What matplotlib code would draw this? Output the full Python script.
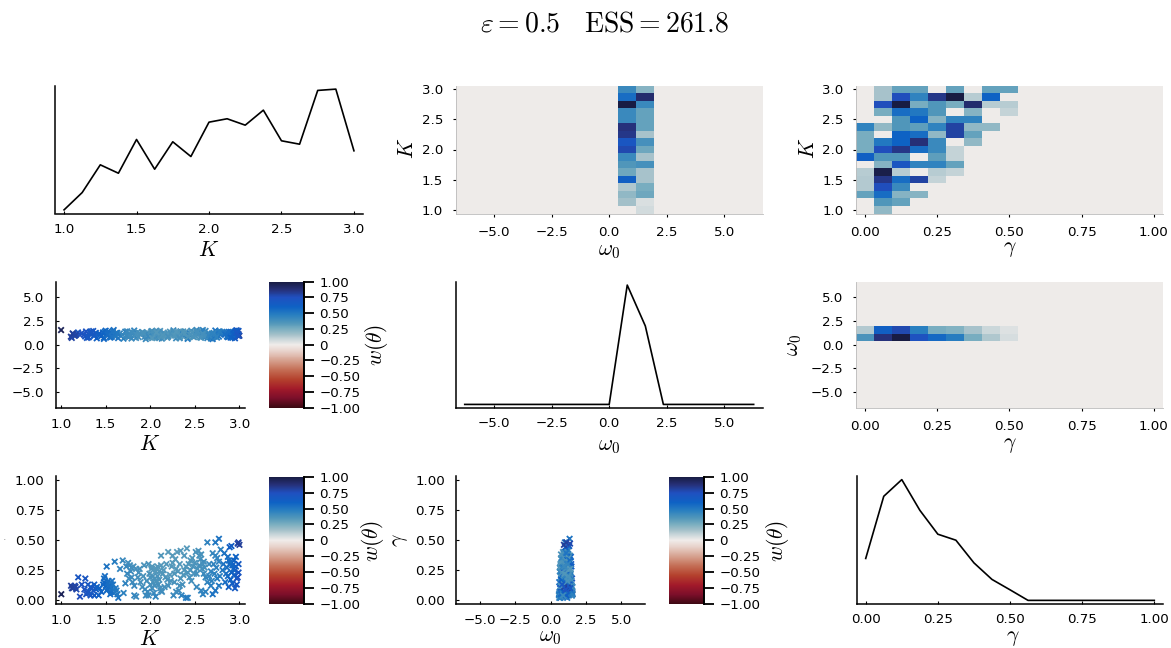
import numpy as np
import matplotlib
matplotlib.use('Agg')
import matplotlib.pyplot as plt
from matplotlib.colors import LinearSegmentedColormap

plt.rcParams['mathtext.fontset'] = 'cm'
plt.rcParams['font.family'] = ['DejaVu Sans']

# ---------------- data ----------------
K_grid = [1.0, 1.125, 1.25, 1.375, 1.5, 1.625, 1.75, 1.875, 2.0,
          2.125, 2.25, 2.375, 2.5, 2.625, 2.75, 2.875, 3.0]
W0_grid = [-6.283, -5.498, -4.712, -3.927, -3.142, -2.356, -1.571, -0.785, 0.0,
           0.785, 1.571, 2.356, 3.142, 3.927, 4.712, 5.498, 6.283]
G_grid = [0.0, 0.0625, 0.125, 0.1875, 0.25, 0.3125, 0.375, 0.4375, 0.5,
          0.5625, 0.625, 0.6875, 0.75, 0.8125, 0.875, 0.9375, 1.0]

# marginals
K_marg = [4.0, 21.3, 49.0, 40.6, 74.3, 44.6, 72.0, 57.3, 91.6,
          95.0, 88.6, 103.6, 73.0, 69.6, 123.3, 124.6, 63.0]
W0_marg = [0, 0, 0, 0, 0, 0, 0, 0, 0, 121.7, 80.0, 0, 0, 0, 0, 0, 0]
G_marg = [42.0, 104.3, 121.0, 90.3, 66.3, 60.3, 37.6, 21.0, 10.6,
          0, 0, 0, 0, 0, 0, 0, 0]

# heatmap K (rows, K=1.0..3.0) x omega0 (columns at 0.785 and 1.571)
KW_at_0785 = [0, 0.16, 0.20, 0.14, 0.62, 0.28, 0.35, 0.42, 0.78,
              0.70, 0.85, 0.87, 0.42, 0.42, 1.00, 0.55, 0.42]
KW_at_1571 = [0.07, 0.05, 0.28, 0.25, 0.15, 0.15, 0.38, 0.15, 0.28,
              0.38, 0.15, 0.30, 0.30, 0.30, 0.42, 0.90, 0.22]

# heatmap K (rows) x gamma (first 9 gamma columns, rest empty)
KG_rows = [
    [0, 0.20, 0, 0, 0, 0, 0, 0, 0],              # K=1.0
    [0, 0.35, 0.30, 0, 0, 0, 0, 0, 0],           # 1.125
    [0.30, 0.55, 0.22, 0.22, 0, 0, 0, 0, 0],     # 1.25
    [0.13, 0.75, 0.42, 0, 0, 0, 0, 0, 0],        # 1.375
    [0.13, 0.85, 0.55, 0.80, 0.10, 0, 0, 0, 0],  # 1.5
    [0.12, 0.98, 0.12, 0, 0.12, 0.10, 0, 0, 0],  # 1.625
    [0, 0.22, 0.70, 0.45, 0.45, 0.30, 0, 0, 0],  # 1.75
    [0.62, 0.35, 0.35, 0, 0.32, 0.10, 0, 0, 0],  # 1.875
    [0.25, 0.75, 0.85, 0.55, 0.42, 0.10, 0, 0, 0],  # 2.0
    [0.25, 0.50, 0.60, 0.88, 0.42, 0, 0.20, 0, 0],  # 2.125
    [0.25, 0, 0.60, 0.55, 0.20, 0.80, 0.30, 0, 0],  # 2.25
    [0.45, 0.20, 0.35, 0.32, 0.45, 0.80, 0.20, 0.20, 0],  # 2.375
    [0, 0, 0.35, 0.60, 0.22, 0.45, 0.45, 0, 0],  # 2.5
    [0, 0.25, 0.55, 0.50, 0.35, 0, 0.22, 0, 0.10],  # 2.625
    [0, 0.75, 1.00, 0.25, 0.35, 0.25, 0.90, 0.12, 0.12],  # 2.75
    [0, 0.15, 0.75, 0.45, 0.85, 1.00, 0.12, 0.60, 0],  # 2.875
    [0, 0.15, 0.30, 0.30, 0, 0.30, 0, 0.30, 0.30],  # 3.0
]

# heatmap omega0 (rows 0.785 and 1.571) x gamma
WG_at_0785 = [0.36, 0.87, 1.00, 0.73, 0.57, 0.48, 0.25, 0.14, 0.06]
WG_at_1571 = [0.13, 0.62, 0.78, 0.47, 0.25, 0.23, 0.15, 0.08, 0.04]

# posterior samples: K, gamma, omega0, weight
K_s = [1.00,1.11,1.14,1.12,1.15,1.19,1.21,1.23,1.27,1.28,
       1.31,1.33,1.33,1.37,1.39,1.36,1.40,1.37,1.43,1.48,
       1.49,1.51,1.48,1.50,1.52,1.54,1.56,1.57,1.59,1.60,
       1.64,1.66,1.69,1.72,1.75,1.77,1.79,1.81,1.78,1.74,
       1.76,1.80,1.82,1.82,1.84,1.89,1.91,1.94,1.97,1.95,
       1.93,1.99,2.01,2.03,2.05,2.06,2.08,2.10,2.02,2.04,
       2.06,2.09,2.12,2.13,2.12,2.12,2.15,2.17,2.19,2.22,
       2.24,2.25,2.28,2.20,2.25,2.26,2.29,2.32,2.36,2.34,
       2.30,2.34,2.38,2.41,2.40,2.42,2.44,2.46,2.49,2.40,
       2.42,2.35,2.51,2.54,2.55,2.56,2.55,2.58,2.60,2.62,
       2.64,2.57,2.59,2.62,2.64,2.73,2.77,2.70,2.73,2.75,
       2.79,2.77,2.68,2.72,2.75,2.77,2.73,2.70,2.87,2.89,
       2.90,2.92,2.94,2.96,2.89,2.91,2.88,2.92,2.95,2.97,
       2.98,2.98,2.99,3.00,2.85,2.87,2.91,1.29,1.17,1.53,
       1.55,1.62,1.70,1.86,1.96,2.00,2.07,2.16,2.18,2.31,
       2.33,2.37,2.45,2.48,2.52,2.66,2.68,2.81,2.83,2.95,
       2.99,1.88,1.98,2.27,2.60,
       1.52,1.55,1.58,1.61,1.63,1.51,1.57,1.47,1.45,1.42,
       2.03,2.05,2.08,2.10,2.00,2.11,1.98,2.14,2.07,2.02,
       2.38,2.43,2.47,2.50,2.53,2.57,2.59,2.61,2.52,2.45,
       2.82,2.86,2.88,2.93,2.96,2.90,2.94,2.97,2.99,2.84,
       2.71,2.74,2.78,2.66,2.69,1.84,1.87,1.79,1.73,1.92,
       2.20,2.23,2.27,2.29,2.33,1.13,1.16,1.26,1.34,1.30]
G_s = [0.05,0.12,0.11,0.10,0.12,0.19,0.03,0.13,0.18,0.05,
       0.07,0.04,0.11,0.13,0.09,0.08,0.11,0.04,0.10,0.18,
       0.20,0.28,0.15,0.12,0.09,0.11,0.07,0.10,0.06,0.32,
       0.02,0.26,0.33,0.14,0.31,0.29,0.27,0.28,0.24,0.22,
       0.18,0.15,0.12,0.04,0.03,0.15,0.11,0.09,0.07,0.04,
       0.29,0.22,0.26,0.20,0.18,0.24,0.28,0.24,0.10,0.06,
       0.03,0.13,0.08,0.07,0.37,0.29,0.25,0.19,0.17,0.21,
       0.28,0.31,0.34,0.40,0.37,0.04,0.07,0.08,0.13,0.18,
       0.40,0.41,0.37,0.43,0.28,0.23,0.19,0.16,0.22,0.02,
       0.02,0.04,0.40,0.41,0.37,0.34,0.29,0.26,0.22,0.19,
       0.15,0.08,0.05,0.07,0.48,0.48,0.51,0.39,0.37,0.35,
       0.42,0.32,0.24,0.22,0.18,0.12,0.08,0.05,0.36,0.30,
       0.32,0.29,0.33,0.36,0.44,0.45,0.11,0.14,0.10,0.18,
       0.19,0.47,0.48,0.46,0.22,0.20,0.23,0.06,0.09,0.16,
       0.13,0.08,0.06,0.19,0.16,0.13,0.16,0.11,0.30,0.24,
       0.30,0.21,0.33,0.28,0.11,0.30,0.12,0.25,0.39,0.25,
       0.30,0.26,0.30,0.15,0.32,
       0.14,0.05,0.13,0.10,0.05,0.08,0.16,0.13,0.07,0.04,
       0.15,0.12,0.20,0.17,0.19,0.10,0.04,0.22,0.26,0.28,
       0.25,0.30,0.35,0.31,0.26,0.38,0.30,0.27,0.22,0.25,
       0.30,0.27,0.33,0.26,0.28,0.17,0.21,0.13,0.23,0.15,
       0.30,0.27,0.20,0.20,0.16,0.26,0.23,0.19,0.28,0.20,
       0.12,0.16,0.22,0.26,0.12,0.10,0.11,0.09,0.10,0.13]
O_s = [1.55,0.85,1.10,0.72,0.95,1.30,1.05,1.22,0.88,1.40,
       0.78,1.15,1.32,0.92,1.25,1.45,0.68,1.02,1.18,0.75,
       1.35,1.08,0.62,1.48,0.98,1.27,0.82,1.12,1.55,0.93,
       0.70,1.20,1.05,1.38,0.88,1.15,0.66,1.28,1.00,1.42,
       0.80,1.22,0.95,1.50,0.72,1.10,1.33,0.85,1.25,0.60,
       1.18,0.92,1.40,0.76,1.08,1.30,0.98,0.70,1.45,1.15,
       0.82,1.35,1.02,0.64,1.12,0.90,1.28,1.06,0.74,1.38,
       0.96,1.20,1.10,0.88,1.32,1.52,0.68,1.22,0.94,1.42,
       1.05,1.25,0.86,1.15,1.36,0.72,1.00,1.48,0.80,1.18,
       0.62,1.30,0.95,1.12,1.38,0.78,1.22,1.05,0.90,1.46,
       0.70,1.28,1.55,0.84,1.10,1.02,1.35,0.92,1.18,0.76,
       1.25,1.40,0.66,1.08,1.32,0.86,1.50,0.60,1.20,0.98,
       1.36,0.74,1.14,1.44,1.05,1.32,0.88,1.26,0.68,1.52,
       1.00,1.38,1.12,0.95,1.30,0.80,1.18,0.72,1.08,1.42,
       0.90,1.24,0.64,1.34,1.02,0.82,1.48,1.16,0.94,1.28,
       0.70,1.40,1.06,0.86,1.56,1.20,0.76,1.36,1.10,0.98,
       1.46,1.22,0.78,1.30,1.04,
       1.05,0.75,1.40,0.95,1.25,1.18,0.85,1.30,0.90,1.12,
       1.35,0.78,1.15,0.92,1.22,1.45,0.88,1.02,1.30,0.70,
       1.12,0.84,1.28,0.96,1.42,0.74,1.16,0.90,1.34,1.04,
       1.20,0.88,1.36,1.00,1.48,0.76,1.12,1.30,0.94,1.06,
       1.24,0.82,1.40,0.98,1.18,1.10,0.80,1.32,0.96,1.26,
       0.86,1.20,0.98,1.38,0.72,1.20,0.98,1.08,1.40,0.82]
W_s = [0.95,0.82,0.82,0.80,0.78,0.70,0.75,0.72,0.70,0.72,
       0.68,0.70,0.66,0.64,0.66,0.68,0.62,0.66,0.60,0.55,
       0.55,0.52,0.58,0.58,0.56,0.55,0.55,0.52,0.54,0.48,
       0.52,0.45,0.42,0.45,0.40,0.38,0.40,0.38,0.40,0.42,
       0.40,0.40,0.42,0.44,0.42,0.38,0.38,0.40,0.42,0.42,
       0.36,0.36,0.35,0.35,0.36,0.34,0.34,0.35,0.40,0.42,
       0.44,0.38,0.40,0.40,0.35,0.34,0.34,0.35,0.36,0.34,
       0.34,0.33,0.33,0.33,0.33,0.42,0.40,0.40,0.38,0.36,
       0.33,0.33,0.34,0.33,0.35,0.36,0.37,0.38,0.36,0.50,
       0.48,0.45,0.36,0.36,0.37,0.37,0.38,0.39,0.40,0.42,
       0.44,0.44,0.46,0.46,0.45,0.50,0.52,0.42,0.44,0.44,
       0.46,0.46,0.44,0.46,0.48,0.50,0.52,0.52,0.55,0.56,
       0.56,0.58,0.60,0.60,0.62,0.64,0.62,0.64,0.66,0.70,
       0.72,0.78,0.80,0.82,0.55,0.56,0.58,0.70,0.78,0.55,
       0.55,0.50,0.46,0.38,0.38,0.38,0.36,0.38,0.34,0.35,
       0.34,0.35,0.35,0.36,0.42,0.42,0.48,0.50,0.52,0.62,
       0.66,0.38,0.36,0.37,0.40,
       0.55,0.55,0.52,0.50,0.50,0.56,0.52,0.58,0.60,0.62,
       0.37,0.38,0.36,0.36,0.37,0.38,0.42,0.35,0.34,0.34,
       0.35,0.35,0.35,0.36,0.37,0.37,0.38,0.39,0.38,0.36,
       0.52,0.54,0.55,0.58,0.62,0.60,0.62,0.68,0.70,0.55,
       0.44,0.46,0.48,0.44,0.46,0.38,0.38,0.40,0.42,0.37,
       0.38,0.37,0.35,0.34,0.38,0.82,0.80,0.72,0.68,0.68]

K_ticks = [1.0, 1.5, 2.0, 2.5, 3.0]
K_ticklabels = ['1.0', '1.5', '2.0', '2.5', '3.0']
W0_ticks = [-5.0, -2.5, 0.0, 2.5, 5.0]
W0_ticklabels = ['\u22125.0', '\u22122.5', '0.0', '2.5', '5.0']
G_ticks = [0.0, 0.25, 0.5, 0.75, 1.0]
G_ticklabels = ['0.00', '0.25', '0.50', '0.75', '1.00']
CB_ticks = [1.0, 0.75, 0.5, 0.25, 0.0, -0.25, -0.5, -0.75, -1.0]
CB_ticklabels = ['1.00', '0.75', '0.50', '0.25', '0', '\u22120.25', '\u22120.50', '\u22120.75', '\u22121.00']

# ---------------- colormap (balance-like, reversed) ----------------
cm_nodes = [(-1.0, '#3c0912'), (-0.85, '#7c0f2a'), (-0.7, '#a31a2a'), (-0.55, '#b4412d'),
            (-0.4, '#c46e55'), (-0.25, '#d6a290'), (-0.1, '#e8d2cb'), (0.0, '#f0ecea'),
            (0.1, '#c3d2d7'), (0.16, '#a3c0c9'), (0.25, '#7aaec0'), (0.35, '#5096ba'),
            (0.47, '#2a80c0'), (0.6, '#0e62c4'), (0.75, '#2050c0'), (0.88, '#263078'),
            (1.0, '#181c43')]
cmap = LinearSegmentedColormap.from_list('bal', [((v + 1) / 2, c) for v, c in cm_nodes])

# ---------------- layout ----------------
FW, FH = 1171, 648
fig = plt.figure(figsize=(FW / 100, FH / 100), dpi=100)


def add_ax(x0, x1, yt, yb):
    return fig.add_axes([x0 / FW, 1 - yb / FH, (x1 - x0) / FW, (yb - yt) / FH])


def ftext(x, y, s, va='center', **kw):
    fig.text(x / FW, 1 - y / FH, s, ha='center', va=va, **kw)


K_lim = (0.9375, 3.0625)
W0_lim = (-6.676, 6.676)
G_lim = (-0.03125, 1.03125)
TICK_FS = 9.6
LAB_FS = 15.5


def style_line(ax):
    for s in ['top', 'right']:
        ax.spines[s].set_visible(False)
    for s in ['left', 'bottom']:
        ax.spines[s].set_linewidth(1.1)
    ax.set_yticks([])
    ax.tick_params(axis='x', direction='in', length=2, width=0.8, labelsize=TICK_FS, pad=6.5)


def style_scatter(ax):
    for s in ['top', 'right']:
        ax.spines[s].set_visible(False)
    for s in ['left', 'bottom']:
        ax.spines[s].set_linewidth(1.1)
    ax.tick_params(axis='both', direction='in', length=2, width=0.8, labelsize=TICK_FS)
    ax.tick_params(axis='x', pad=7.5)
    ax.tick_params(axis='y', pad=8)


def style_heat(ax):
    for s in ['top', 'right']:
        ax.spines[s].set_visible(False)
    for s in ['left', 'bottom']:
        ax.spines[s].set_linewidth(0.6)
        ax.spines[s].set_color('#bbbbbb')
    ax.tick_params(axis='both', direction='out', length=2, width=0.8, labelsize=TICK_FS)
    ax.tick_params(axis='x', pad=7)
    ax.tick_params(axis='y', pad=7)


def colorbar(mappable, x0, x1, yt, yb, labx, laby):
    cax = add_ax(x0, x1, yt, yb)
    cb = fig.colorbar(mappable, cax=cax)
    cb.outline.set_visible(False)
    cax.plot([1, 1], [0, 1], transform=cax.transAxes, color='k', lw=1.4, clip_on=False)
    cb.set_ticks(CB_ticks)
    cb.set_ticklabels(CB_ticklabels)
    cax.tick_params(length=7, width=1.3, pad=4, labelsize=TICK_FS)
    ftext(labx, laby, r'$w(\theta)$', fontsize=LAB_FS, rotation=90)


def set_k_x(ax):
    ax.set_xlim(*K_lim)
    ax.set_xticks(K_ticks)
    ax.set_xticklabels(K_ticklabels)


def set_w0_x(ax):
    ax.set_xlim(*W0_lim)
    ax.set_xticks(W0_ticks)
    ax.set_xticklabels(W0_ticklabels)


def set_g_x(ax):
    ax.set_xlim(*G_lim)
    ax.set_xticks(G_ticks)
    ax.set_xticklabels(G_ticklabels)


# row positions
R1 = (85.5, 213.5)
R2 = (281.5, 408.0)
R3 = (476.0, 604.0)

# ---- (1,1) K marginal ----
ax = add_ax(55, 363, *R1)
ax.plot(K_grid, K_marg, color='k', lw=1.2)
ax.margins(y=0.03)
set_k_x(ax)
style_line(ax)
ftext(209, 240, r'$K$', va='top', fontsize=LAB_FS)

# ---- (1,2) heatmap omega0 vs K ----
ax = add_ax(455.7, 762.7, *R1)
Z = np.zeros((len(K_grid), len(W0_grid)))
Z[:, 9] = KW_at_0785
Z[:, 10] = KW_at_1571
ax.pcolormesh(W0_grid, K_grid, Z, cmap=cmap, vmin=-1, vmax=1, shading='nearest')
set_w0_x(ax)
ax.set_ylim(*K_lim)
ax.set_yticks(K_ticks)
ax.set_yticklabels(K_ticklabels)
style_heat(ax)
ftext(609, 241, r'$\omega_0$', va='top', fontsize=LAB_FS)
ftext(407, 148, r'$K$', fontsize=LAB_FS, rotation=90)

# ---- (1,3) heatmap gamma vs K ----
ax = add_ax(856, 1162.7, *R1)
Z = np.zeros((len(K_grid), len(G_grid)))
Z[:, :9] = np.array(KG_rows)
ax.pcolormesh(G_grid, K_grid, Z, cmap=cmap, vmin=-1, vmax=1, shading='nearest')
set_g_x(ax)
ax.set_ylim(*K_lim)
ax.set_yticks(K_ticks)
ax.set_yticklabels(K_ticklabels)
style_heat(ax)
ftext(1010, 239, r'$\gamma$', va='top', fontsize=LAB_FS)
ftext(808, 148, r'$K$', fontsize=LAB_FS, rotation=90)

# ---- (2,1) scatter K vs omega0 ----
ax = add_ax(55.5, 245, *R2)
sc = ax.scatter(K_s, O_s, c=W_s, cmap=cmap, vmin=-1, vmax=1, marker='x', s=16, linewidths=1.3)
set_k_x(ax)
ax.set_ylim(*W0_lim)
ax.set_yticks(W0_ticks)
ax.set_yticklabels(W0_ticklabels)
style_scatter(ax)
ftext(150, 434, r'$K$', va='top', fontsize=LAB_FS)
colorbar(sc, 269.3, 304.3, 281.7, 407.7, 377, 345)

# ---- (2,2) omega0 marginal ----
ax = add_ax(455.7, 762.7, *R2)
ax.plot(W0_grid, W0_marg, color='k', lw=1.2)
ax.margins(y=0.03)
set_w0_x(ax)
style_line(ax)
ftext(609, 436, r'$\omega_0$', va='top', fontsize=LAB_FS)

# ---- (2,3) heatmap gamma vs omega0 ----
ax = add_ax(856, 1162.7, *R2)
Z = np.zeros((len(W0_grid), len(G_grid)))
Z[9, :9] = WG_at_0785
Z[10, :9] = WG_at_1571
ax.pcolormesh(G_grid, W0_grid, Z, cmap=cmap, vmin=-1, vmax=1, shading='nearest')
set_g_x(ax)
ax.set_ylim(*W0_lim)
ax.set_yticks(W0_ticks)
ax.set_yticklabels(W0_ticklabels)
style_heat(ax)
ftext(1010, 435, r'$\gamma$', va='top', fontsize=LAB_FS)
ftext(794, 345, r'$\omega_0$', fontsize=LAB_FS, rotation=90)

# ---- (3,1) scatter K vs gamma ----
ax = add_ax(55.7, 245, *R3)
sc = ax.scatter(K_s, G_s, c=W_s, cmap=cmap, vmin=-1, vmax=1, marker='x', s=16, linewidths=1.3)
set_k_x(ax)
ax.set_ylim(*G_lim)
ax.set_yticks(G_ticks)
ax.set_yticklabels(G_ticklabels)
style_scatter(ax)
ftext(150, 629, r'$K$', va='top', fontsize=LAB_FS)
colorbar(sc, 269.3, 304.3, 476.7, 604, 372, 541)
fig.text(4 / FW, 1 - 539 / FH, '.', fontsize=4, ha='center', va='center')

# ---- (3,2) scatter omega0 vs gamma ----
ax = add_ax(456, 645, *R3)
sc = ax.scatter(O_s, G_s, c=W_s, cmap=cmap, vmin=-1, vmax=1, marker='x', s=16, linewidths=1.3)
set_w0_x(ax)
ax.set_ylim(*G_lim)
ax.set_yticks(G_ticks)
ax.set_yticklabels(G_ticklabels)
style_scatter(ax)
ftext(550, 627, r'$\omega_0$', va='top', fontsize=LAB_FS)
ftext(400, 540, r'$\gamma$', fontsize=LAB_FS, rotation=90)
colorbar(sc, 669.3, 704.3, 476.7, 604, 778, 541)

# ---- (3,3) gamma marginal ----
ax = add_ax(856.7, 1163.3, *R3)
ax.plot(G_grid, G_marg, color='k', lw=1.2)
ax.margins(y=0.03)
set_g_x(ax)
style_line(ax)
ftext(1013, 628, r'$\gamma$', va='top', fontsize=LAB_FS)

# ---- title ----
ftext(605, 24, r'$\varepsilon = 0.5\quad \mathrm{ESS} = 261.8$', fontsize=20)

fig.savefig('out.png', dpi=100)
